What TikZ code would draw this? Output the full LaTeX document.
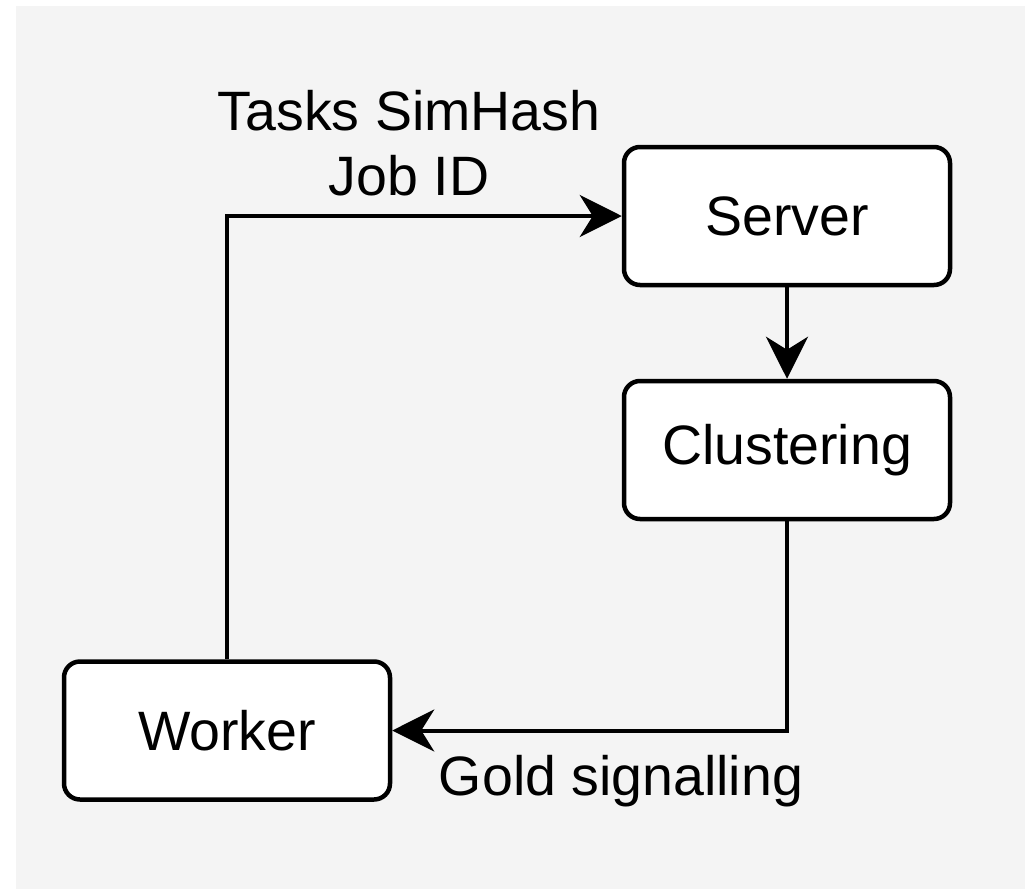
\documentclass[tikz,border=0pt]{standalone}
\usepackage{fontspec}
\setmainfont{Liberation Sans}
\usetikzlibrary{arrows.meta}
\definecolor{canvas}{HTML}{F4F4F4}
\tikzset{
  box/.style={draw=black, line width=4.5pt, fill=white, rounded corners=16pt,
    minimum width=326pt, minimum height=138pt, inner sep=0pt,
    font=\fontsize{55.5}{65}\selectfont},
  link/.style={draw=black, line width=4pt,
    -{Stealth[length=42pt,width=42pt,inset=13pt]}},
  lbl/.style={inner sep=0pt, align=center, font=\fontsize{55.5}{65}\selectfont}
}
\begin{document}
\begin{tikzpicture}[x=1pt, y=-1pt]
  \useasboundingbox (0,0) rectangle (1025,889);
  \fill[white] (0,0) rectangle (1025,889);
  \fill[canvas] (16,6) rectangle (1025,889);

  \node[box] (server) at (787,216) {Server};
  \node[box] (cluster) at (787,450) {Clustering};
  \node[box] (worker) at (227,730.5) {Worker};

  \draw[link] (worker.north) |- (server.west);
  \draw[link] (server.south) -- (cluster.north);
  \draw[link] (cluster.south) |- (worker.east);

  \node[lbl, anchor=base] (lbltop) at (409,195) {Tasks SimHash\\Job ID};
  \node[lbl, anchor=base] (lblbottom) at (621,795) {Gold signalling};
\end{tikzpicture}
\end{document}
